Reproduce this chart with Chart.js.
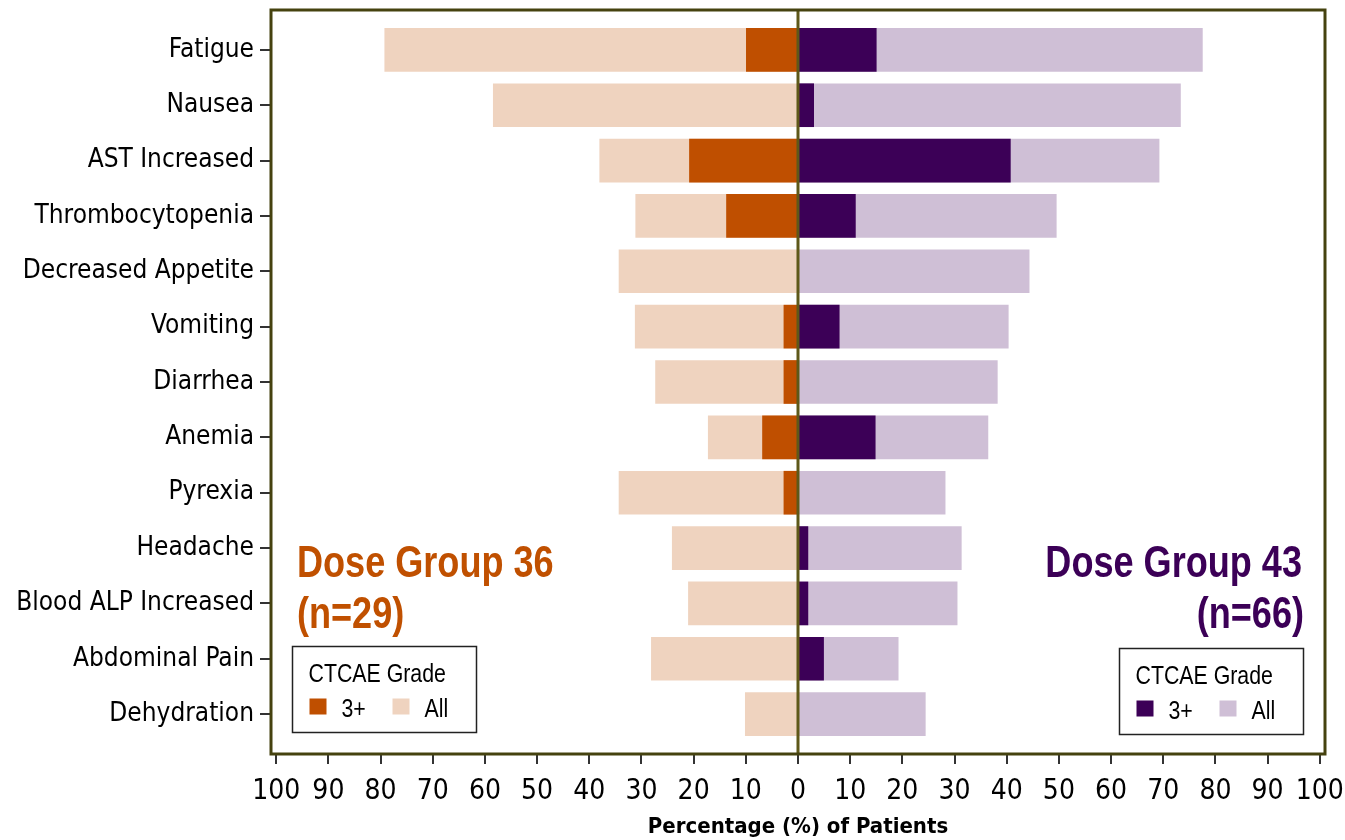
<!DOCTYPE html>
<html>
<head>
<meta charset="utf-8">
<title>Adverse events by dose group</title>
<script src="https://cdn.jsdelivr.net/npm/chart.js@4/dist/chart.umd.min.js"></script>
<style>
  html, body { margin: 0; padding: 0; background: #fff; }
  canvas { display: block; }
</style>
</head>
<body>
<canvas id="tornado" width="1345" height="840"></canvas>
<script>
// categories, top to bottom
const CATEGORIES = [
  'Fatigue', 'Nausea', 'AST Increased', 'Thrombocytopenia', 'Decreased Appetite',
  'Vomiting', 'Diarrhea', 'Anemia', 'Pyrexia', 'Headache',
  'Blood ALP Increased', 'Abdominal Pain', 'Dehydration'
]

// % of patients, dose group 36 (n=29) - drawn to the left
const DOSE36_ALL = [79.2, 58.4, 38.0, 31.1, 34.3, 31.2, 27.3, 17.2, 34.3, 24.1, 21.0, 28.1, 10.1]
const DOSE36_G3  = [9.9, 0, 20.8, 13.7, 0, 2.7, 2.7, 6.8, 2.7, 0, 0, 0, 0]

// % of patients, dose group 43 (n=66) - drawn to the right
const DOSE43_ALL = [77.5, 73.3, 69.2, 49.5, 44.3, 40.3, 38.2, 36.4, 28.2, 31.3, 30.5, 19.2, 24.4]
const DOSE43_G3  = [15.0, 3.0, 40.7, 11.0, 0, 7.9, 0, 14.8, 0, 1.9, 1.9, 4.9, 0]

const X_TICKS = [-100, -90, -80, -70, -60, -50, -40, -30, -20, -10, 0, 10, 20, 30, 40, 50, 60, 70, 80, 90, 100]

// colours
const COLORS = {
  orangeDark: '#bf4f00',
  orangeLight: '#efd3bf',
  purpleDark: '#3c0057',
  purpleLight: '#cfbfd6',
  orangeText: '#c05000',
  purpleText: '#3c0057',
  frame: '#45420f',
  zero: '#5e5819'
}

const AXIS_FONT = "'Liberation Sans Narrow', 'Arial Narrow', 'DejaVu Sans Condensed', sans-serif"
const TEXT_FONT = "'Liberation Sans', Arial, sans-serif"
Chart.defaults.font.family = AXIS_FONT
Chart.defaults.color = '#000'

// turn a value list into {x, y} points, y = category index
function toPoints(values, sign) {
  return values.map((v, i) => ({ x: sign * v, y: i }))
}

// text squeezed sideways, to get the narrow look of the original
function narrowText(ctx, text, x, y, align) {
  ctx.save()
  ctx.translate(x, y)
  ctx.scale(0.82, 1)
  ctx.textAlign = align
  ctx.fillText(text, 0, 0)
  ctx.restore()
}

// frame round the plot area + the zero line
const framePlugin = {
  id: 'frame',
  afterDatasetsDraw(chart) {
    const { ctx, chartArea: a, scales } = chart
    const x0 = scales.x.getPixelForValue(0)
    ctx.save()
    ctx.strokeStyle = COLORS.zero
    ctx.lineWidth = 3
    ctx.beginPath()
    ctx.moveTo(x0, a.top)
    ctx.lineTo(x0, a.bottom)
    ctx.stroke()
    ctx.strokeStyle = COLORS.frame
    ctx.lineWidth = 3
    ctx.strokeRect(a.left, a.top, a.right - a.left, a.bottom - a.top)
    ctx.restore()
  }
}

// one "CTCAE Grade" key box
function drawKey(ctx, x, y, dark, light) {
  ctx.fillStyle = '#fff'
  ctx.fillRect(x, y, 184, 86)
  ctx.strokeStyle = '#222'
  ctx.lineWidth = 1.5
  ctx.strokeRect(x, y, 184, 86)
  ctx.fillStyle = '#000'
  ctx.font = '26px ' + TEXT_FONT
  ctx.textBaseline = 'alphabetic'
  narrowText(ctx, 'CTCAE Grade', x + 16, y + 35, 'left')
  ctx.fillStyle = dark
  ctx.fillRect(x + 17, y + 52, 17, 16)
  ctx.fillStyle = light
  ctx.fillRect(x + 100, y + 52, 17, 16)
  ctx.fillStyle = '#000'
  narrowText(ctx, '3+', x + 49, y + 70, 'left')
  narrowText(ctx, 'All', x + 132, y + 70, 'left')
}

// group titles and keys
const notesPlugin = {
  id: 'notes',
  afterDraw(chart) {
    const ctx = chart.ctx
    ctx.save()
    ctx.font = 'bold 44px ' + TEXT_FONT
    ctx.textBaseline = 'alphabetic'

    ctx.fillStyle = COLORS.orangeText
    narrowText(ctx, 'Dose Group 36', 297, 577, 'left')
    narrowText(ctx, '(n=29)', 297, 628, 'left')

    ctx.fillStyle = COLORS.purpleText
    narrowText(ctx, 'Dose Group 43', 1302, 577, 'right')
    narrowText(ctx, '(n=66)', 1304, 628, 'right')

    drawKey(ctx, 292.5, 646.5, COLORS.orangeDark, COLORS.orangeLight)
    drawKey(ctx, 1119.5, 648.5, COLORS.purpleDark, COLORS.purpleLight)
    ctx.restore()
  }
}

const barDefaults = { grouped: false, barThickness: 43, borderWidth: 0 }

new Chart(document.getElementById('tornado'), {
  type: 'bar',
  data: {
    datasets: [
      { ...barDefaults, label: '36: 3+', data: toPoints(DOSE36_G3, -1), backgroundColor: COLORS.orangeDark, order: 0 },
      { ...barDefaults, label: '43: 3+', data: toPoints(DOSE43_G3, 1), backgroundColor: COLORS.purpleDark, order: 0 },
      { ...barDefaults, label: '36: All', data: toPoints(DOSE36_ALL, -1), backgroundColor: COLORS.orangeLight, order: 1 },
      { ...barDefaults, label: '43: All', data: toPoints(DOSE43_ALL, 1), backgroundColor: COLORS.purpleLight, order: 1 }
    ]
  },
  options: {
    indexAxis: 'y',
    responsive: false,
    animation: false,
    layout: { padding: { left: 0, right: 20, top: 10, bottom: 0 } },
    plugins: {
      legend: { display: false },
      tooltip: { enabled: false }
    },
    scales: {
      x: {
        type: 'linear',
        min: -101,
        max: 101,
        afterBuildTicks: s => { s.ticks = X_TICKS.map(v => ({ value: v })) },
        afterFit: s => { s.height = 86; s.paddingLeft = 0; s.paddingRight = 0 },
        border: { display: false },
        grid: { drawOnChartArea: false, drawTicks: true, tickLength: 10, color: '#333', lineWidth: 2 },
        ticks: {
          autoSkip: false,
          maxRotation: 0,
          padding: 11,
          color: '#000',
          font: { size: 28 },
          callback: v => Math.abs(v)
        },
        title: {
          display: true,
          text: 'Percentage (%) of Patients',
          color: '#000',
          font: { size: 22, weight: 'bold' },
          padding: { top: 0, bottom: 0 }
        }
      },
      y: {
        type: 'linear',
        reverse: true,
        offset: false,
        min: -0.72,
        max: 12.72,
        afterBuildTicks: s => { s.ticks = CATEGORIES.map((c, i) => ({ value: i })) },
        afterFit: s => { s.width = 271; s.paddingTop = 0; s.paddingBottom = 0 },
        border: { display: false },
        grid: { offset: false, drawOnChartArea: false, drawTicks: true, tickLength: 11, color: '#333', lineWidth: 2 },
        ticks: {
          autoSkip: false,
          padding: 6,
          color: '#000',
          font: { size: 26 },
          callback: v => CATEGORIES[v]
        }
      }
    }
  },
  plugins: [framePlugin, notesPlugin]
})
</script>
</body>
</html>
